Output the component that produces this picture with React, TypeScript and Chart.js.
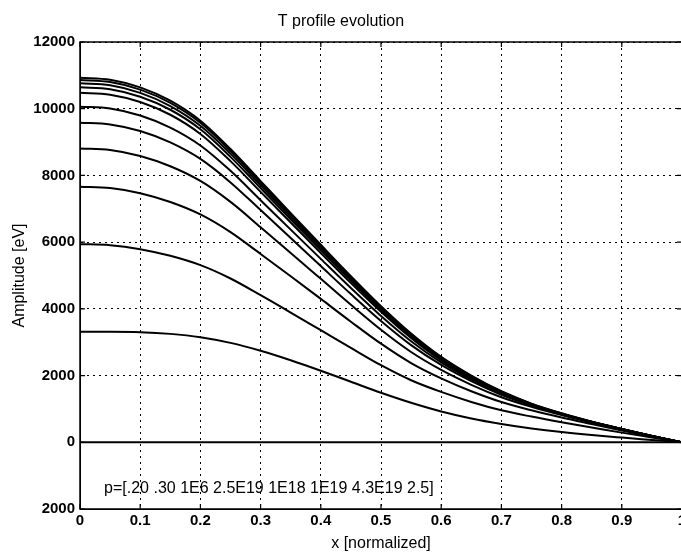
import React, { useEffect, useRef } from "react";
import { Chart, registerables } from "chart.js";

Chart.register(...registerables);

// ---- data ----
const xValues = [
  0, 0.05, 0.1, 0.15, 0.2, 0.25, 0.3, 0.35, 0.4, 0.45, 0.5,
  0.55, 0.6, 0.65, 0.7, 0.75, 0.8, 0.85, 0.9, 0.95, 1.0,
];

const profile01 = [10930, 10870, 10640, 10240, 9640, 8790, 7830, 6870, 5920, 4980, 4080, 3260, 2560, 2000, 1530, 1160, 870, 620, 400, 190, 0];
const profile02 = [10860, 10800, 10572, 10175, 9578, 8733, 7780, 6826, 5882, 4948, 4054, 3240, 2543, 1987, 1520, 1152, 864, 616, 397, 189, 0];
const profile03 = [10760, 10701, 10475, 10081, 9490, 8653, 7708, 6763, 5828, 4902, 4017, 3210, 2520, 1969, 1506, 1142, 856, 610, 394, 187, 0];
const profile04 = [10640, 10581, 10358, 9969, 9384, 8557, 7622, 6687, 5763, 4848, 3972, 3174, 2492, 1947, 1490, 1129, 847, 603, 389, 185, 0];
const profile05 = [10480, 10422, 10202, 9819, 9243, 8428, 7508, 6587, 5676, 4775, 3912, 3126, 2454, 1918, 1467, 1112, 834, 594, 384, 182, 0];
const profile06 = [10060, 10006, 9796, 9433, 8897, 8137, 7258, 6376, 5498, 4625, 3787, 3030, 2396, 1883, 1453, 1116, 844, 608, 393, 188, 0];
const profile07 = [9580, 9529, 9332, 8991, 8496, 7791, 6961, 6123, 5282, 4443, 3637, 2914, 2319, 1834, 1426, 1108, 845, 613, 399, 192, 0];
const profile08 = [8810, 8764, 8584, 8276, 7834, 7206, 6447, 5677, 4900, 4121, 3372, 2706, 2168, 1723, 1350, 1061, 814, 596, 388, 189, 0];
const profile09 = [7660, 7621, 7466, 7202, 6830, 6300, 5645, 4977, 4298, 3615, 2956, 2375, 1915, 1530, 1207, 959, 741, 546, 356, 174, 0];
const profile10 = [5940, 5910, 5790, 5590, 5310, 4910, 4410, 3890, 3360, 2830, 2310, 1860, 1510, 1210, 960, 770, 600, 445, 290, 145, 0];
const profile11 = [3310, 3310, 3300, 3250, 3150, 2980, 2745, 2460, 2145, 1815, 1485, 1185, 925, 715, 550, 415, 305, 215, 140, 70, 0];
const profile12 = [0, 0, 0, 0, 0, 0, 0, 0, 0, 0, 0, 0, 0, 0, 0, 0, 0, 0, 0, 0, 0];

const profiles = [
  profile01, profile02, profile03, profile04, profile05, profile06,
  profile07, profile08, profile09, profile10, profile11, profile12,
];

const xTickValues = [0, 0.1, 0.2, 0.3, 0.4, 0.5, 0.6, 0.7, 0.8, 0.9, 1.0];
const xTickLabels = ["0", "0.1", "0.2", "0.3", "0.4", "0.5", "0.6", "0.7", "0.8", "0.9", "1"];
const yTickValues = [-2000, 0, 2000, 4000, 6000, 8000, 10000, 12000];
const yTickLabels = ["2000", "0", "2000", "4000", "6000", "8000", "10000", "12000"];

const titleText = "T profile evolution";
const xTitle = "x [normalized]";
const yTitle = "Amplitude [eV]";
const noteText = "p=[.20 .30 1E6 2.5E19 1E18 1E19 4.3E19 2.5]";
const noteX = 0.04;
const noteY = -1400;

const FONT = "'Liberation Sans', Arial, Helvetica, sans-serif";

const boxPlugin = {
  id: "matlabBox",
  afterDraw(chart: any) {
    const { ctx, chartArea, scales } = chart;
    const { left, right, top, bottom } = chartArea;
    ctx.save();
    ctx.strokeStyle = "#000";
    ctx.lineWidth = 1.5;
    ctx.setLineDash([]);
    ctx.strokeRect(left, top, right - left, bottom - top);
    ctx.lineWidth = 1.2;
    const tl = 5;
    ctx.beginPath();
    for (const v of xTickValues) {
      const px = scales.x.getPixelForValue(v);
      ctx.moveTo(px, bottom);
      ctx.lineTo(px, bottom - tl);
      ctx.moveTo(px, top);
      ctx.lineTo(px, top + tl);
    }
    for (const v of yTickValues) {
      const py = scales.y.getPixelForValue(v);
      ctx.moveTo(left, py);
      ctx.lineTo(left + tl, py);
      ctx.moveTo(right, py);
      ctx.lineTo(right - tl, py);
    }
    ctx.stroke();
    // annotation text
    ctx.fillStyle = "#000";
    ctx.font = `16px ${FONT}`;
    ctx.textAlign = "left";
    ctx.textBaseline = "middle";
    ctx.fillText(noteText, scales.x.getPixelForValue(noteX), scales.y.getPixelForValue(noteY));
    ctx.restore();
  },
};

export default function App() {
  const ref = useRef<HTMLCanvasElement | null>(null);

  useEffect(() => {
    if (!ref.current) return;
    const datasets = profiles.map((p, i) => ({
      label: `t${i + 1}`,
      data: xValues.map((x, k) => ({ x, y: p[k] })),
      borderColor: "#000",
      borderWidth: 2,
      pointRadius: 0,
      fill: false,
      cubicInterpolationMode: "monotone" as const,
    }));

    const chart = new Chart(ref.current, {
      type: "line",
      data: { datasets },
      options: {
        responsive: false,
        animation: false,
        layout: { padding: { left: 0, right: 18, top: 0, bottom: 0 } },
        plugins: {
          legend: { display: false },
          tooltip: { enabled: false },
          title: {
            display: true,
            text: titleText,
            color: "#000",
            font: { family: FONT, size: 16, weight: "normal" },
            padding: { top: 12, bottom: 10.8 },
          },
        },
        scales: {
          x: {
            type: "linear",
            min: 0,
            max: 1,
            afterBuildTicks: (scale: any) => {
              scale.ticks = xTickValues.map((v) => ({ value: v }));
            },
            afterFit: (scale: any) => {
              scale.height = 44;
            },
            ticks: {
              color: "#000",
              padding: 3,
              maxRotation: 0,
              autoSkip: false,
              font: { family: FONT, size: 15, weight: "bold" },
              callback: (v: any) => {
                const i = xTickValues.findIndex((t) => Math.abs(t - Number(v)) < 1e-9);
                return i >= 0 ? xTickLabels[i] : "";
              },
            },
            grid: { color: "#000", lineWidth: 1, drawTicks: false },
            border: { display: true, color: "#000", width: 1, dash: [2, 4] },
            title: {
              display: true,
              text: xTitle,
              color: "#000",
              font: { family: FONT, size: 16, weight: "normal" },
              padding: { top: 0, bottom: 0 },
            },
          },
          y: {
            type: "linear",
            min: -2000,
            max: 12000,
            afterBuildTicks: (scale: any) => {
              scale.ticks = yTickValues.map((v) => ({ value: v }));
            },
            afterFit: (scale: any) => {
              scale.width = 80;
            },
            ticks: {
              color: "#000",
              padding: 5,
              autoSkip: false,
              font: { family: FONT, size: 15, weight: "bold" },
              callback: (v: any) => {
                const i = yTickValues.indexOf(Number(v));
                return i >= 0 ? yTickLabels[i] : "";
              },
            },
            grid: { color: "#000", lineWidth: 1, drawTicks: false },
            border: { display: true, color: "#000", width: 1, dash: [2, 4] },
            title: {
              display: true,
              text: yTitle,
              color: "#000",
              font: { family: FONT, size: 16, weight: "normal" },
              padding: { top: 10, bottom: 0 },
            },
          },
        },
      },
      plugins: [boxPlugin],
    });
    return () => chart.destroy();
  }, []);

  return (
    <div
      style={{
        position: "absolute",
        left: 0,
        top: 0,
        width: 681,
        height: 553,
        overflow: "hidden",
        background: "#fff",
      }}
    >
      <canvas ref={ref} width={700} height={553} style={{ display: "block" }} />
    </div>
  );
}
